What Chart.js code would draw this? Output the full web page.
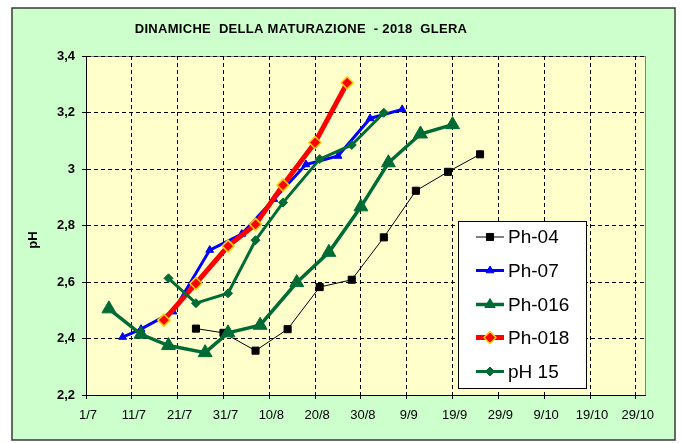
<!DOCTYPE html>
<html>
<head>
<meta charset="utf-8">
<script src="https://cdn.jsdelivr.net/npm/chart.js@4/dist/chart.umd.min.js"></script>
<style>
html,body{margin:0;padding:0;background:#ffffff;}
#wrap{width:681px;height:443px;position:relative;}
canvas{display:block;}
</style>
</head>
<body>
<div id="wrap"><canvas id="c" width="681" height="443"></canvas></div>
<script>
// ---- DATA ----
const chartTitle = "DINAMICHE  DELLA MATURAZIONE  - 2018  GLERA";
const yTitle = "pH";
const xTickLabels = ["1/7","11/7","21/7","31/7","10/8","20/8","30/8","9/9","19/9","29/9","9/10","19/10","29/10"];
const xMaxDate = "31/10";
const yTickValues = [2.2, 2.4, 2.6, 2.8, 3.0, 3.2, 3.4];

const seriesNames = ["Ph-04", "Ph-07", "Ph-016", "Ph-018", "pH 15"];

const ph04Dates  = ["25/7","31/7","7/8","14/8","21/8","28/8","4/9","11/9","18/9","25/9"];
const ph04Values = [2.435, 2.42, 2.357, 2.433, 2.582, 2.608, 2.758, 2.923, 2.99, 3.052];

const ph07Dates  = ["9/7","13/7","20/7","28/7","4/8","11/8","18/8","25/8","1/9","8/9"];
const ph07Values = [2.405, 2.433, 2.495, 2.713, 2.77, 2.893, 3.016, 3.046, 3.179, 3.211];

const ph016Dates  = ["6/7","13/7","19/7","27/7","1/8","8/8","16/8","23/8","30/8","5/9","12/9","19/9"];
const ph016Values = [2.505, 2.415, 2.375, 2.35, 2.42, 2.447, 2.598, 2.705, 2.866, 3.022, 3.124, 3.157];

const ph018Dates  = ["18/7","25/7","1/8","7/8","13/8","20/8","27/8"];
const ph018Values = [2.465, 2.595, 2.727, 2.804, 2.943, 3.094, 3.305];

const ph15Dates  = ["19/7","25/7","1/8","7/8","13/8","21/8","28/8","4/9"];
const ph15Values = [2.613, 2.525, 2.56, 2.748, 2.881, 3.035, 3.085, 3.199];

// ---- HELPERS ----
const dayOf = s => {
  const [d, m] = s.split('/').map(Number);
  return Math.round((Date.UTC(2018, m - 1, d) - Date.UTC(2018, 6, 1)) / 86400000);
};
const pts = (dates, vals) => dates.map((s, i) => ({x: dayOf(s), y: vals[i]}));
const xTickDays = xTickLabels.map(dayOf);
const labelForDay = {};
xTickLabels.forEach((l, i) => labelForDay[xTickDays[i]] = l);

const FONT = "'Liberation Sans', Arial, Helvetica, sans-serif";
const GREEN = '#006b35';

const datasets = [
  {label: seriesNames[0], data: pts(ph04Dates, ph04Values), borderColor: '#000000', borderWidth: 1,
   pointStyle: 'rect', pointRadius: 5, pointBackgroundColor: '#000000', pointBorderColor: '#000000', pointBorderWidth: 1, order: 5},
  {label: seriesNames[1], data: pts(ph07Dates, ph07Values), borderColor: '#0000ff', borderWidth: 3,
   pointStyle: 'triangle', pointRadius: 4.5, pointBackgroundColor: '#0000ff', pointBorderColor: '#0000ff', pointBorderWidth: 1, order: 4},
  {label: seriesNames[2], data: pts(ph016Dates, ph016Values), borderColor: GREEN, borderWidth: 3.5,
   pointStyle: 'triangle', pointRadius: 8, pointBackgroundColor: GREEN, pointBorderColor: GREEN, pointBorderWidth: 1, order: 3},
  {label: seriesNames[3], data: pts(ph018Dates, ph018Values), borderColor: '#ff0000', borderWidth: 5,
   pointStyle: 'rectRot', pointRadius: 6, pointBackgroundColor: '#ff0000', pointBorderColor: '#ffcc00', pointBorderWidth: 1.5, order: 2},
  {label: seriesNames[4], data: pts(ph15Dates, ph15Values), borderColor: GREEN, borderWidth: 3,
   pointStyle: 'rectRot', pointRadius: 4.5, pointBackgroundColor: GREEN, pointBorderColor: GREEN, pointBorderWidth: 1, order: 1}
];
datasets.forEach(d => { d.showLine = true; d.tension = 0; d.fill = false; d.pointHoverRadius = d.pointRadius; });

const backgroundPlugin = {
  id: 'bg',
  beforeDraw(chart) {
    const ctx = chart.ctx, a = chart.chartArea;
    ctx.save();
    ctx.fillStyle = '#ffffff';
    ctx.fillRect(0, 0, chart.width, chart.height);
    ctx.fillStyle = '#ccffcc';
    ctx.fillRect(12, 8, 663, 432);
    ctx.strokeStyle = '#3a3a3a';
    ctx.lineWidth = 1.5;
    ctx.strokeRect(12, 8, 663, 432);
    ctx.fillStyle = '#ffffcc';
    ctx.fillRect(a.left, a.top, a.right - a.left, a.bottom - a.top);
    ctx.strokeStyle = '#808080';
    ctx.lineWidth = 1;
    ctx.strokeRect(a.left + 0.5, a.top + 0.5, a.right - a.left, a.bottom - a.top);
    // title
    ctx.fillStyle = '#000000';
    ctx.font = "bold 13px " + FONT;
    ctx.textAlign = 'center';
    ctx.textBaseline = 'middle';
    try { ctx.letterSpacing = '0.3px'; } catch (e) {}
    ctx.fillText(chartTitle, 301, 29);
    try { ctx.letterSpacing = '0px'; } catch (e) {}
    // y title
    ctx.translate(33, 240);
    ctx.rotate(-Math.PI / 2);
    ctx.fillText(yTitle, 0, 0);
    ctx.restore();
  }
};

const legendPlugin = {
  id: 'boxLegend',
  afterDraw(chart) {
    const ctx = chart.ctx;
    const bx = 458, by = 221, bw = 128, bh = 167;
    ctx.save();
    ctx.fillStyle = '#ffffff';
    ctx.fillRect(bx, by, bw, bh);
    ctx.strokeStyle = '#000000';
    ctx.lineWidth = 1;
    ctx.strokeRect(bx + 0.5, by + 0.5, bw, bh);
    const rowY = [237, 270.5, 304.5, 337.5, 371.5];
    chart.data.datasets.forEach((ds, i) => {
      const y = rowY[i];
      ctx.strokeStyle = ds.borderColor;
      ctx.lineWidth = ds.borderWidth;
      ctx.beginPath();
      ctx.moveTo(476, y);
      ctx.lineTo(504, y);
      ctx.stroke();
      ctx.fillStyle = ds.pointBackgroundColor;
      ctx.strokeStyle = ds.pointBorderColor;
      ctx.lineWidth = ds.pointBorderWidth;
      Chart.helpers.drawPoint(ctx, {pointStyle: ds.pointStyle, radius: Math.min(ds.pointRadius, 6), rotation: 0, borderWidth: ds.pointBorderWidth}, 490, y);
      ctx.fillStyle = '#000000';
      ctx.font = "19px " + FONT;
      ctx.textAlign = 'left';
      ctx.textBaseline = 'middle';
      ctx.fillText(ds.label, 508, y + 1);
    });
    ctx.restore();
  }
};

new Chart(document.getElementById('c'), {
  type: 'scatter',
  data: {datasets},
  options: {
    responsive: false,
    animation: false,
    devicePixelRatio: 1,
    layout: {padding: {left: 0, right: 36, top: 56, bottom: 0}},
    plugins: {legend: {display: false}, title: {display: false}, tooltip: {enabled: false}},
    scales: {
      x: {
        type: 'linear',
        min: 0,
        max: dayOf(xMaxDate),
        afterFit: s => { s.height = 48; },
        afterBuildTicks: s => { s.ticks = xTickDays.map(v => ({value: v})); },
        ticks: {
          autoSkip: false, maxRotation: 0, padding: 9, labelOffset: 2, color: '#000000',
          font: {family: FONT, size: 13},
          callback: v => labelForDay[v] || ''
        },
        grid: {color: '#000000', lineWidth: 1, tickColor: '#000000', tickLength: 4, tickBorderDash: []},
        border: {color: '#000000', width: 1, dash: [4, 3]}
      },
      y: {
        type: 'linear',
        min: 2.2,
        max: 3.4,
        afterFit: s => { s.width = 86; },
        afterBuildTicks: s => { s.ticks = yTickValues.map(v => ({value: v})); },
        ticks: {
          padding: 7, color: '#000000',
          font: {family: FONT, size: 13, weight: 'bold'},
          callback: v => String(+v.toFixed(1)).replace('.', ',')
        },
        grid: {color: '#000000', lineWidth: 1, tickColor: '#000000', tickLength: 4, tickBorderDash: []},
        border: {color: '#000000', width: 1, dash: [4, 3]}
      }
    }
  },
  plugins: [backgroundPlugin, legendPlugin]
});
</script>
</body>
</html>
